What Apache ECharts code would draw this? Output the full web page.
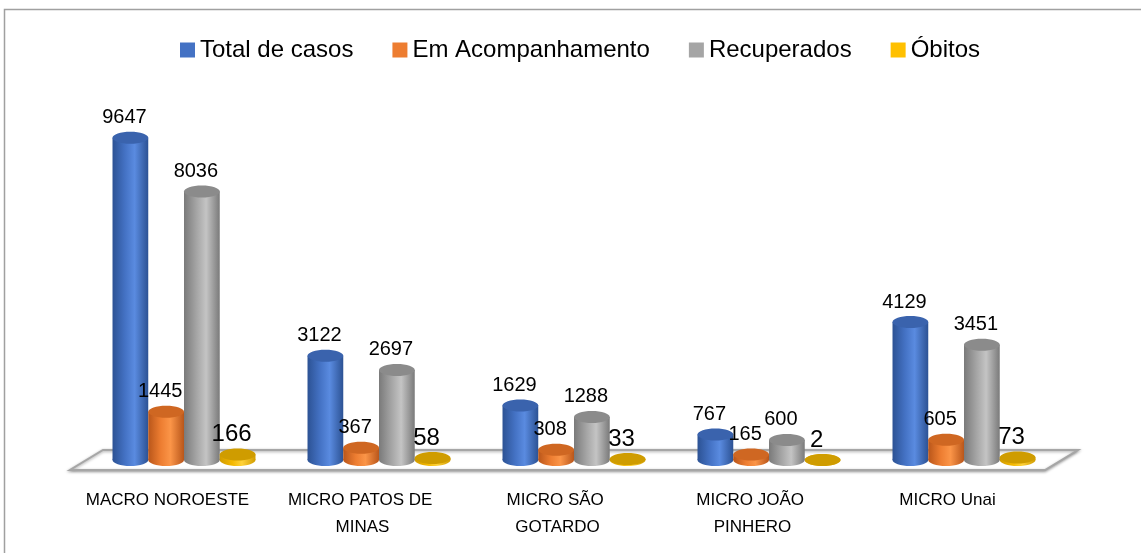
<!DOCTYPE html>
<html>
<head>
<meta charset="utf-8">
<script src="https://cdn.jsdelivr.net/npm/echarts@6/dist/echarts.min.js"></script>
<style>
  html, body { margin: 0; padding: 0; background: #fff; }
  #chart { width: 1141px; height: 553px; }
</style>
</head>
<body>
<div id="chart"></div>
<script>
// dados do grafico
var regioes = ['MACRO NOROESTE', 'MICRO PATOS DE MINAS', 'MICRO SÃO GOTARDO', 'MICRO JOÃO PINHERO', 'MICRO Unai'];
var totalCasos = [9647, 3122, 1629, 767, 4129];
var emAcompanhamento = [1445, 367, 308, 165, 605];
var recuperados = [8036, 2697, 1288, 600, 3451];
var obitos = [166, 58, 33, 2, 73];

(function () {
  var chart = echarts.init(document.getElementById('chart'));

  var gridLeft = 70, gridRight = 96, gridTop = 136, gridBottom = 83;
  var axisY = 553 - gridBottom;
  var depthX = 33, depthY = 20;      // profundidade do piso
  var barRatio = 0.1833;             // largura do cilindro / largura da categoria
  var ry = 6;                        // meia altura das elipses
  var fonte = '"Liberation Sans", Arial, sans-serif';

  // cores do cilindro: borda, meio, realce e tampa
  var estilos = [
    { cor: '#4472C4', borda: '#2c5294', meio: '#4472C4', realce: '#5a8be0', tampa: '#3a63ad', fs: 20, dy: 10 },
    { cor: '#ED7D31', borda: '#b9561a', meio: '#ED7D31', realce: '#fb9548', tampa: '#cf6722', fs: 20, dy: 10 },
    { cor: '#A5A5A5', borda: '#7a7a7a', meio: '#a5a5a5', realce: '#c4c4c4', tampa: '#8b8b8b', fs: 20, dy: 10 },
    { cor: '#FFC000', borda: '#d19c00', meio: '#f4b800', realce: '#ffd23a', tampa: '#cf9c00', fs: 24, dy: 8 }
  ];

  function toData(arr) {
    return arr.map(function (v, i) { return [i, v]; });
  }

  function cilindro(idx) {
    var e = estilos[idx];
    return function (params, api) {
      var cat = api.value(0), val = api.value(1);
      var base = api.coord([cat, 0]);
      var topo = api.coord([cat, val]);
      var band = api.size([1, 0])[0];
      var w = band * barRatio;
      var cx = base[0] + depthX / 2 + (idx - 1.5) * w;
      var by = base[1] - depthY / 2;
      var ty = topo[1] - depthY / 2;
      var grad = new echarts.graphic.LinearGradient(0, 0, 1, 0, [
        { offset: 0, color: e.borda },
        { offset: 0.35, color: e.meio },
        { offset: 0.62, color: e.realce },
        { offset: 1, color: e.borda }
      ]);
      return {
        type: 'group',
        children: [
          { type: 'ellipse', shape: { cx: cx, cy: by, rx: w / 2, ry: ry }, style: { fill: grad } },
          { type: 'rect', shape: { x: cx - w / 2, y: ty, width: w, height: Math.max(by - ty, 0) }, style: { fill: grad } },
          { type: 'ellipse', shape: { cx: cx, cy: ty, rx: w / 2, ry: ry }, style: { fill: e.tampa } },
          {
            type: 'text',
            style: {
              text: String(val), x: cx - 6, y: ty - e.dy,
              align: 'center', verticalAlign: 'bottom',
              font: e.fs + 'px ' + fonte, fill: '#000'
            }
          }
        ]
      };
    };
  }

  var nomes = ['Total de casos', 'Em Acompanhamento', 'Recuperados', 'Óbitos'];
  var valores = [totalCasos, emAcompanhamento, recuperados, obitos];

  var series = nomes.map(function (nome, i) {
    return {
      name: nome,
      type: 'custom',
      renderItem: cilindro(i),
      encode: { x: 0, y: 1 },
      itemStyle: { color: estilos[i].cor },
      clip: false,
      z: 3,
      data: toData(valores[i])
    };
  });

  var fl = gridLeft, fr = 1141 - gridRight;

  option = {
    animation: false,
    backgroundColor: '#fff',
    textStyle: { fontFamily: fonte },
    legend: {
      data: nomes,
      left: 175,
      top: 33,
      icon: 'rect',
      itemWidth: 15,
      itemHeight: 15,
      itemGap: 39,
      textStyle: { fontSize: 24, color: '#000', fontFamily: fonte }
    },
    grid: { left: gridLeft, right: gridRight, top: gridTop, bottom: gridBottom },
    xAxis: {
      type: 'category',
      data: regioes,
      axisLine: { show: false },
      axisTick: { show: false },
      axisLabel: {
        interval: 0,
        margin: 17,
        fontSize: 17,
        lineHeight: 27,
        color: '#000',
        width: 170,
        overflow: 'break',
        fontFamily: fonte
      }
    },
    yAxis: {
      type: 'value',
      min: 0,
      max: 10000,
      show: false
    },
    graphic: [
      {
        type: 'rect',
        z: 0,
        shape: { x: 4.5, y: 9.5, width: 1200, height: 600 },
        style: { fill: 'none', stroke: '#a0a0a0', lineWidth: 1.5 }
      },
      {
        type: 'polygon',
        z: 1,
        shape: { points: [[fl, axisY], [fr, axisY], [fr + depthX, axisY - depthY], [fl + depthX, axisY - depthY]] },
        style: {
          fill: '#fff', stroke: '#a6a6a6', lineWidth: 2,
          shadowBlur: 3, shadowColor: 'rgba(0,0,0,0.35)', shadowOffsetY: 1
        }
      }
    ],
    series: series
  };

  chart.setOption(option);
})();
</script>
</body>
</html>
